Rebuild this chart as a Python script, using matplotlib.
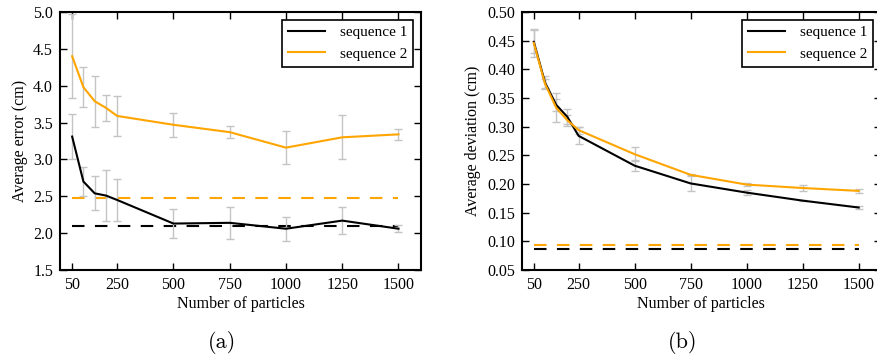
#importing libraries
import numpy as np
import matplotlib.pyplot as plt
from matplotlib.ticker import FormatStrFormatter

plt.rcParams['font.family'] = ['Liberation Serif', 'DejaVu Serif']

#number of particles used in each run
particles = [50, 100, 150, 200, 250, 500, 750, 1000, 1250, 1500]

#average error (cm) for both sequences with their spread
error_seq1 = [3.31, 2.70, 2.54, 2.51, 2.45, 2.13, 2.14, 2.06, 2.17, 2.06]
error_seq1_sd = [0.30, 0.20, 0.23, 0.34, 0.29, 0.195, 0.22, 0.165, 0.185, 0.045]
error_seq2 = [4.40, 3.98, 3.79, 3.70, 3.59, 3.47, 3.37, 3.16, 3.30, 3.34]
error_seq2_sd = [0.57, 0.27, 0.345, 0.175, 0.27, 0.165, 0.085, 0.22, 0.30, 0.07]
error_base = [2.10, 2.48]

#average deviation (cm) for both sequences with their spread
dev_seq1 = [0.448, 0.377, 0.338, 0.317, 0.284, 0.232, 0.201, 0.185, 0.171, 0.159]
dev_seq1_sd = [0.020, 0.011, 0.010, 0.013, 0.015, 0.010, 0.014, 0.004, 0.001, 0.003]
dev_seq2 = [0.446, 0.375, 0.333, 0.311, 0.294, 0.252, 0.216, 0.199, 0.193, 0.188]
dev_seq2_sd = [0.025, 0.008, 0.025, 0.010, 0.006, 0.012, 0.002, 0.002, 0.006, 0.003]
dev_base = [0.086, 0.094]

xticks = [50, 250, 500, 750, 1000, 1250, 1500]
labels = ["sequence 1", "sequence 2"]
colors = ["black", "orange"]

W, H = 877, 356
fig = plt.figure(figsize=(W/100, H/100), dpi=100)

def px_axes(x0, y0, x1, y1):
    return fig.add_axes([x0/W, 1-y1/H, (x1-x0)/W, (y1-y0)/H])

#function to draw one panel
def panel(ax, means, sds, base, ylim, yticks, fmt, ylab):
    for b, c in zip(base, colors):
        ax.plot([particles[0], particles[-1]], [b, b], color=c, lw=1.5,
                dashes=(6, 5))
    for m, s in zip(means, sds):
        ax.errorbar(particles, m, yerr=s, fmt='none', ecolor='#c4c4c4',
                    elinewidth=1, capsize=3, capthick=1)
    for m, c, l in zip(means, colors, labels):
        ax.plot(particles, m, color=c, lw=1.5, label=l)
    ax.set_xlim(-4, 1600)
    ax.set_ylim(*ylim)
    ax.set_xticks(xticks)
    ax.set_yticks(yticks)
    ax.yaxis.set_major_formatter(FormatStrFormatter(fmt))
    ax.tick_params(direction='in', length=5, width=1, top=True, right=True,
                   labelsize=11.5, pad=5)
    for sp in ax.spines.values():
        sp.set_linewidth(1.5)
    ax.set_xlabel("Number of particles", fontsize=11.5, labelpad=2)
    ax.set_ylabel(ylab, fontsize=11.5)
    leg = ax.legend(loc='upper right', fontsize=11, fancybox=False,
                    edgecolor='black', framealpha=1, handlelength=2.4,
                    handletextpad=1.0, borderaxespad=0.5)
    leg.get_frame().set_linewidth(1.2)

ax1 = px_axes(60, 12, 421, 270)
panel(ax1, [error_seq1, error_seq2], [error_seq1_sd, error_seq2_sd], error_base,
      (1.5, 5.0), np.arange(1.5, 5.01, 0.5), '%.1f', "Average error (cm)")

ax2 = px_axes(521.7, 12, 881, 270)
panel(ax2, [dev_seq1, dev_seq2], [dev_seq1_sd, dev_seq2_sd], dev_base,
      (0.05, 0.50), np.arange(0.05, 0.501, 0.05), '%.2f', "Average deviation (cm)")

#subfigure captions
fig.text(222/W, 1-343/H, "(a)", fontsize=16, ha='center', va='center', family='cmr10')
fig.text(683/W, 1-343/H, "(b)", fontsize=16, ha='center', va='center', family='cmr10')

plt.savefig("out.png", dpi=100)
